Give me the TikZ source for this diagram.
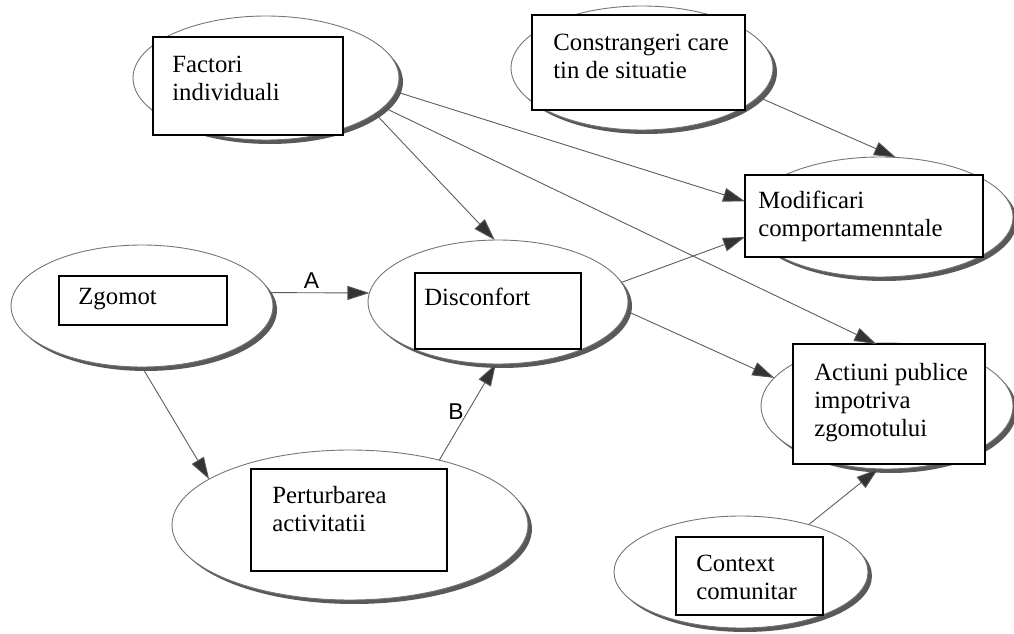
\documentclass[tikz,border=0pt]{standalone}
\usepackage{fontspec}
\setmainfont{Liberation Serif}
\newfontfamily\lettfont{Liberation Sans}
\usetikzlibrary{positioning}
\usetikzlibrary{shapes.geometric}
\usetikzlibrary{arrows.meta}
\usetikzlibrary{shadows}

\begin{document}
\begin{tikzpicture}[x = 0.02cm, y = -0.02cm,
    ell/.style = {ellipse, draw = black!55, line width = 0.5pt, fill = white, inner sep = 0pt, outer sep = 0pt,
        drop shadow = {shadow xshift = 0.08cm, shadow yshift = -0.08cm, fill = black!65, opacity = 1}},
    box/.style = {rectangle, draw, line width = 0.7pt, fill = white, inner sep = 0pt, outer sep = 0pt},
    txt/.style = {anchor = north west, align = left, inner sep = 0pt, font = \fontsize{14.1}{16}\selectfont},
    conn/.style = {draw = black!65, line width = 0.5pt, -{Triangle[length = 0.44cm, width = 0.28cm, fill = black!80]}},
    lett/.style = {font = \lettfont\fontsize{13}{15}\selectfont, inner sep = 2pt}]
    \useasboundingbox (0,0) rectangle (1014,634);

    % ellipses
    \node[ell, minimum width = 5.32cm, minimum height = 2.48cm] at (266,78) (factoriE) {};
    \node[ell, minimum width = 5.24cm, minimum height = 2.48cm] at (642,68) (constrE) {};
    \node[ell, minimum width = 5.32cm, minimum height = 2.40cm] at (880,217) (modifE) {};
    \node[ell, minimum width = 5.24cm, minimum height = 2.44cm] at (142,306) (zgomotE) {};
    \node[ell, minimum width = 5.20cm, minimum height = 2.48cm] at (498,302) (disconfE) {};
    \node[ell, minimum width = 7.12cm, minimum height = 3.00cm] at (350,525) (perturbE) {};
    \node[ell, minimum width = 5.04cm, minimum height = 2.52cm] at (887,406) (actiuniE) {};
    \node[ell, minimum width = 5.08cm, minimum height = 2.24cm] at (741,572) (contextE) {};

    % boxes
    \node[box, minimum width = 3.80cm, minimum height = 1.96cm] at (248,86) (factori) {};
    \node[box, minimum width = 4.26cm, minimum height = 1.90cm] at (638.5,62.5) (constr) {};
    \node[box, minimum width = 4.76cm, minimum height = 1.64cm] at (864,216) (modif) {};
    \node[box, minimum width = 3.36cm, minimum height = 0.98cm] at (143,300.5) (zgomot) {};
    \node[box, minimum width = 3.32cm, minimum height = 1.52cm] at (498,311) (disconf) {};
    \node[box, minimum width = 3.92cm, minimum height = 2.04cm] at (349,520) (perturb) {};
    \node[box, minimum width = 3.84cm, minimum height = 2.40cm] at (889,404) (actiuni) {};
    \node[box, minimum width = 2.94cm, minimum height = 1.56cm] at (749.5,576) (context) {};

    % texts
    \node[txt] at (172,56) (factoriT) {Factori\\individuali};
    \node[txt] at (553,34) (constrT) {Constrangeri care\\tin de situatie};
    \node[txt] at (758,191) (modifT) {Modificari\\comportamenntale};
    \node[txt] at (78,288) (zgomotT) {Zgomot};
    \node[txt] at (424,288) (disconfT) {Disconfort};
    \node[txt] at (272,486) (perturbT) {Perturbarea\\activitatii};
    \node[txt] at (814,363) (actiuniT) {Actiuni publice\\impotriva\\zgomotului};
    \node[txt] at (696,555) (contextT) {Context\\comunitar};

    % connectors
    \draw[conn] (factoriE.-6) -- (modif.173);
    \draw[conn] (factoriE.-14) -- (actiuni.102);
    \draw[conn] (factoriE.-18) -- (disconfE.93);
    \draw[conn] (constrE.-14) -- (modifE.75);
    \draw[conn] (zgomotE.6) -- (disconfE.176) node[lett, pos = 0.42, above] (labA) {A};
    \draw[conn] (perturbE.36) -- (disconfE.-92) node[lett, midway, left] (labB) {B};
    \draw[conn] (zgomotE.-90) -- (perturbE.162);
    \draw[conn] (disconfE.9) -- (modif.190);
    \draw[conn] (disconfE.-4) -- (actiuniE.166);
    \draw[conn] (contextE.35) -- (actiuniE.-98);
\end{tikzpicture}
\end{document}
